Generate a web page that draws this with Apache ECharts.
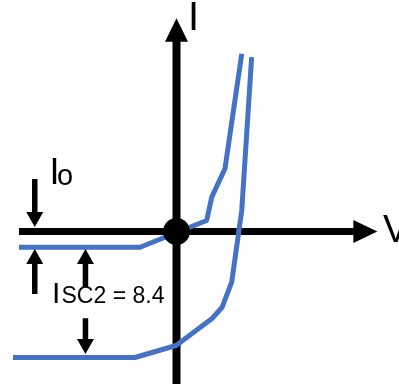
<!DOCTYPE html>
<html>
<head>
<meta charset="utf-8">
<script src="https://cdn.jsdelivr.net/npm/echarts@6/dist/echarts.min.js"></script>
<style>
    html, body { margin: 0; padding: 0; background: #fff; }
    #iv_chart { width: 399px; height: 384px; }
</style>
</head>
<body>
<div id="iv_chart"></div>
<script>
'use strict';

// I-V curves (V, I in chart units)
const darkCurve = [[-10.5, -1.05], [-2.43, -1.05], [2.01, 0.73], [2.35, 2.29], [3.23, 4.18], [4.35, 11.85]];
const litCurve = [[-10.9, -8.4], [-2.77, -8.4], [-0.03, -7.6], [2.37, -5.8], [3.03, -5.07], [3.68, -3.38], [4.35, 1.4], [5.01, 11.62]];

const ioValue = 1.05;
const isc2Value = 8.4;

// axes as arrows: [tailV, tailI, tipV, tipI]
const axisArrows = [
    [0, -10.5, 0, 14.21],
    [-10.5, 0, 13.39, 0]
];

// little annotation arrows: [tailV, tailI, tipV, tipI]
const noteArrows = [
    [-9.45, 3.5, -9.45, 0.3],
    [-9.45, -4.17, -9.45, -ioValue - 0.12],
    [-6.07, -3.7, -6.07, -ioValue - 0.12],
    [-6.07, -5.79, -6.07, -isc2Value + 0.23]
];

// one closed arrow outline from tail to tip, in pixels
const arrowPoints = (p0, p1, shaftW, headW, headL) => {
    const dx = p1[0] - p0[0];
    const dy = p1[1] - p0[1];
    const len = Math.sqrt(dx * dx + dy * dy) || 1;
    const ux = dx / len, uy = dy / len;
    const nx = -uy, ny = ux;
    const bx = p1[0] - ux * headL, by = p1[1] - uy * headL;
    const s = shaftW / 2, h = headW / 2;
    return [
        [p0[0] + nx * s, p0[1] + ny * s],
        [bx + nx * s, by + ny * s],
        [bx + nx * h, by + ny * h],
        [p1[0], p1[1]],
        [bx - nx * h, by - ny * h],
        [bx - nx * s, by - ny * s],
        [p0[0] - nx * s, p0[1] - ny * s]
    ];
};

const arrowRenderer = (shaftW, headW, headL) => (params, api) => {
    const p0 = api.coord([api.value(0), api.value(1)]);
    const p1 = api.coord([api.value(2), api.value(3)]);
    return {
        type: 'polygon',
        shape: { points: arrowPoints(p0, p1, shaftW, headW, headL) },
        style: { fill: '#000' }
    };
};

const ivChart = function() {

    const drawChart = function() {
        if (typeof echarts == 'undefined') return;

        const el = document.getElementById('iv_chart');
        if (!el) return;
        const chart = echarts.init(el);

        const blue = '#4472C4';
        const textFont = 'Liberation Sans, Arial, sans-serif';

        chart.setOption({
            animation: false,
            grid: { left: 11.5, right: 12.5, top: 6.5, bottom: 2.5 },
            xAxis: { type: 'value', min: -11, max: 14, show: false },
            yAxis: { type: 'value', min: -10, max: 15, show: false },
            series: [
                {
                    type: 'custom', data: [axisArrows[0]], silent: true, z: 1,
                    renderItem: arrowRenderer(8, 23, 23.4)
                },
                {
                    type: 'custom', data: [axisArrows[1]], silent: true, z: 1,
                    renderItem: arrowRenderer(7, 23, 24)
                },
                {
                    type: 'line', data: darkCurve, symbol: 'none', clip: false, silent: true,
                    lineStyle: { color: blue, width: 5 }, z: 2
                },
                {
                    type: 'line', data: litCurve, symbol: 'none', clip: false, silent: true,
                    lineStyle: { color: blue, width: 5 }, z: 2
                },
                {
                    type: 'scatter', data: [[0, 0]], symbol: 'circle', silent: true,
                    symbolSize: 27, itemStyle: { color: '#000', opacity: 1 }, z: 3
                },
                {
                    type: 'custom', data: noteArrows, silent: true, z: 4,
                    renderItem: arrowRenderer(5.5, 17, 15)
                }
            ],
            graphic: [
                { type: 'text', x: 188, y: 19, style: { text: 'I', font: '40px ' + textFont, fill: '#000', verticalAlign: 'middle' } },
                { type: 'text', x: 383, y: 232, style: { text: 'V', font: '38px ' + textFont, fill: '#000', verticalAlign: 'middle' } },
                { type: 'text', x: 49.5, y: 174.5, style: { text: 'I', font: '36px ' + textFont, fill: '#000', verticalAlign: 'middle' } },
                { type: 'text', x: 57, y: 177, style: { text: 'o', font: '29px ' + textFont, fill: '#000', verticalAlign: 'middle' } },
                { type: 'text', x: 52, y: 294.5, style: { text: 'I', font: '30px ' + textFont, fill: '#000', verticalAlign: 'middle' } },
                { type: 'text', x: 61.5, y: 297, style: { text: 'SC2 = 8.4', font: '23px ' + textFont, fill: '#000', verticalAlign: 'middle' } }
            ]
        });
    };

    return {
        init: function() {
            drawChart();
        }
    };
}();

document.addEventListener('DOMContentLoaded', function() {
    ivChart.init();
});
</script>
</body>
</html>
